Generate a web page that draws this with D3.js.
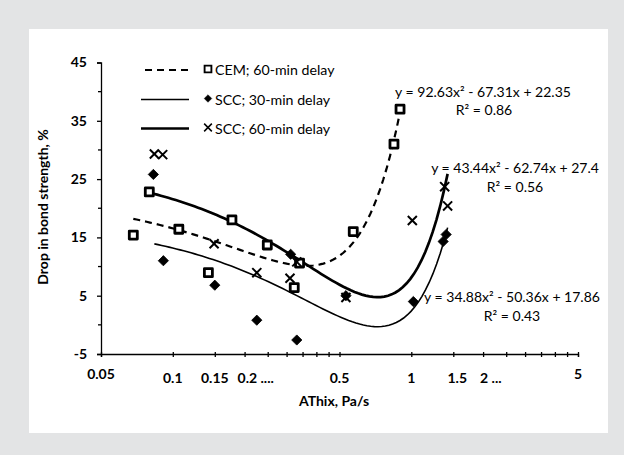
<!DOCTYPE html>
<html>
<head>
<meta charset="utf-8">
<script src="https://cdn.jsdelivr.net/npm/d3@7/dist/d3.min.js"></script>
<style>
  body { margin: 0; background: #e3e4e5; }
  text { font-family: Lato, "Open Sans", sans-serif; fill: #000; }
</style>
</head>
<body>
<script>
// data
var cemPts = [[0.0683, 15.4], [0.0797, 22.8], [0.106, 16.4], [0.141, 8.95], [0.177, 18.0],
              [0.249, 13.7], [0.323, 6.4], [0.34, 10.6], [0.571, 16.0], [0.846, 31.0], [0.897, 37.0]];
var scc30Pts = [[0.0829, 25.8], [0.0913, 11.0], [0.150, 6.8], [0.225, 0.8], [0.312, 12.1],
                [0.331, -2.6], [0.532, 5.0], [1.02, 4.0], [1.36, 14.3], [1.40, 15.5]];
var scc60Pts = [[0.0837, 29.3], [0.0907, 29.2], [0.149, 13.9], [0.225, 8.95], [0.31, 8.0],
                [0.331, 10.8], [0.532, 4.7], [1.01, 17.9], [1.38, 23.7], [1.42, 20.4]];

// trendline coefficients (a, b, c) printed on the chart, and the x range they cover
var cemFit = [92.63, -67.31, 22.35];
var scc60Fit = [43.44, -62.74, 27.4];
var scc30Fit = [34.88, -50.36, 17.86];
var cemRange = [0.0683, 0.897];
var scc60Range = [0.08, 1.42];
var scc30Range = [0.0837, 1.42];

var legendNames = ["CEM; 60-min delay", "SCC; 30-min delay", "SCC; 60-min delay"];
var eqLabels = ["y = 92.63x\u00b2 - 67.31x + 22.35", "y = 43.44x\u00b2 - 62.74x + 27.4", "y = 34.88x\u00b2 - 50.36x + 17.86"];
var r2Labels = ["R\u00b2 = 0.86", "R\u00b2 = 0.56", "R\u00b2 = 0.43"];

var yTicks = [-5, 5, 15, 25, 35, 45];
var yMinor = [0, 10, 20, 30, 40];
var xTickVals = [0.05, 0.1, 0.15, 0.2, 0.25, 0.3, 0.35, 0.4, 0.45, 0.5, 1, 1.5, 2, 2.5, 3, 3.5, 4, 4.5, 5];
var xLabels = [
  {v: 0.05, t: "0.05"}, {v: 0.1, t: "0.1"}, {v: 0.15, t: "0.15"}, {v: 0.2, t: "0.2 ...."},
  {v: 0.5, t: "0.5"}, {v: 1, t: "1"}, {v: 1.5, t: "1.5"}, {v: 2, t: "2 ..."}, {v: 5, t: "5"}
];

var width = 624, height = 455;
var svg = d3.select("body").append("svg")
        .attr("width", width)
        .attr("height", height);

svg.append("rect")
        .attr("width", width).attr("height", height)
        .attr("fill", "#e3e4e5");
svg.append("rect")
        .attr("x", 29).attr("y", 29)
        .attr("width", 579).attr("height", 404)
        .attr("fill", "#fff");

var x = d3.scaleLog().domain([0.05, 5]).range([101, 578]);
var y = d3.scaleLinear().domain([-5, 45]).range([354, 62.5]);

// y axis
var yAxis = svg.append("g")
        .attr("transform", "translate(" + x(0.05) + ",0)")
        .call(d3.axisLeft(y).tickValues(yTicks).tickSize(4).tickPadding(10)
                .tickFormat(function (d) { return String(d); }));
yAxis.select(".domain").attr("stroke", "#000").attr("stroke-width", 1.3);
yAxis.selectAll("line").attr("stroke", "#000").attr("stroke-width", 1.3);
yAxis.selectAll("text")
        .style("font-size", "14px").style("font-weight", "bold")
        .attr("fill", "#000");
svg.append("g").selectAll("line")
        .data(yMinor)
        .enter().append("line")
        .attr("x1", x(0.05) - 3).attr("x2", x(0.05))
        .attr("y1", function (d) { return y(d); })
        .attr("y2", function (d) { return y(d); })
        .attr("stroke", "#000").attr("stroke-width", 1.3);

// x axis
var xAxis = svg.append("g")
        .attr("transform", "translate(0," + y(-5) + ")")
        .call(d3.axisBottom(x).tickValues(xTickVals).tickSize(3).tickFormat(""));
xAxis.select(".domain").attr("stroke", "#000").attr("stroke-width", 1.3);
xAxis.selectAll("line").attr("stroke", "#000").attr("stroke-width", 1.3).attr("y1", -2);

svg.append("g").selectAll("text")
        .data(xLabels)
        .enter().append("text")
        .attr("x", function (d) { return x(d.v); })
        .attr("y", function (d) { return (d.v == 0.05 || d.v == 5) ? 379 : 383; })
        .attr("text-anchor", function (d) { return d.t.indexOf(" ") > 0 ? "start" : "middle"; })
        .attr("dx", function (d) { return d.t.indexOf(" ") > 0 ? (d.v == 2 ? -3 : -7) : (d.v == 1.5 ? 4 : 0); })
        .style("font-size", "14px").style("font-weight", "bold")
        .text(function (d) { return d.t; });

svg.append("text")
        .attr("x", 334).attr("y", 406)
        .attr("text-anchor", "middle")
        .style("font-size", "14px").style("font-weight", "bold")
        .text("AThix, Pa/s");
svg.append("text")
        .attr("transform", "translate(48,207) rotate(-90)")
        .attr("text-anchor", "middle")
        .style("font-size", "14px").style("font-weight", "bold")
        .text("Drop in bond strength, %");

// trendlines
function fitCurve(c, r) {
    var pts = [];
    var lx = d3.scaleLinear().domain([0, 80]).range([Math.log(r[0]), Math.log(r[1])]);
    for (var i = 0; i <= 80; i++) {
        var v = Math.exp(lx(i));
        pts.push([v, c[0] * v * v + c[1] * v + c[2]]);
    }
    return pts;
}
var line = d3.line()
        .x(function (d) { return x(d[0]); })
        .y(function (d) { return y(d[1]); });

svg.append("path")
        .attr("d", line(fitCurve(cemFit, cemRange)))
        .attr("fill", "none").attr("stroke", "#000")
        .attr("stroke-width", 2.2).attr("stroke-dasharray", "7,5");
svg.append("path")
        .attr("d", line(fitCurve(scc30Fit, scc30Range)))
        .attr("fill", "none").attr("stroke", "#000")
        .attr("stroke-width", 1.6);
svg.append("path")
        .attr("d", line(fitCurve(scc60Fit, scc60Range)))
        .attr("fill", "none").attr("stroke", "#000")
        .attr("stroke-width", 2.7);

// markers
var sq = d3.symbol().type(d3.symbolSquare).size(64);
var dia = d3.symbol().type(d3.symbolSquare).size(52);
var cross = d3.symbol().type(d3.symbolX).size(55);

function drawPts(data, sym, filled, sw, rot) {
    svg.append("g").selectAll("path")
            .data(data)
            .enter().append("path")
            .attr("transform", function (d) {
                return "translate(" + x(d[0]) + "," + y(d[1]) + ") rotate(" + rot + ")";
            })
            .attr("d", sym)
            .attr("fill", filled ? "#000" : "#fff")
            .attr("stroke", "#000")
            .attr("stroke-width", sw)
            .attr("stroke-linejoin", "round");
}
drawPts(cemPts, sq, false, 2.8, 0);
drawPts(scc30Pts, dia, true, 0.8, 45);
drawPts(scc60Pts, cross, false, 2, 0);

// legend
var legY = [70, 99.5, 128.5];
var legStyle = [{w: 2.2, dash: "7,5", x1: 145}, {w: 1.6, dash: null, x1: 141}, {w: 2.7, dash: null, x1: 141}];
var legSyms = [sq, dia, cross];
var leg = svg.append("g").selectAll("g")
        .data(legendNames)
        .enter().append("g")
        .attr("transform", function (d, i) { return "translate(0," + legY[i] + ")"; });
leg.append("line")
        .attr("x1", function (d, i) { return legStyle[i].x1; }).attr("x2", 189)
        .attr("stroke", "#000")
        .attr("stroke-width", function (d, i) { return legStyle[i].w; })
        .attr("stroke-dasharray", function (d, i) { return legStyle[i].dash; });
leg.append("path")
        .attr("d", function (d, i) { return legSyms[i](); })
        .attr("fill", function (d, i) { return i == 1 ? "#000" : "#fff"; })
        .attr("stroke", "#000")
        .attr("stroke-width", function (d, i) { return i == 0 ? 2.2 : (i == 1 ? 0.5 : 1.8); })
        .attr("transform", function (d, i) {
            return "translate(208,-1) scale(" + (i == 1 ? 0.75 : 0.85) + ") rotate(" + (i == 1 ? 45 : 0) + ")";
        });
leg.append("text")
        .attr("x", 215).attr("y", 5)
        .style("font-size", "14.2px")
        .text(function (d) { return d; });

// fit equations
var eqPos = [[483, 97], [515, 173], [512, 302]];
var r2Pos = [[484, 115], [515, 192], [512, 321]];
svg.append("g").selectAll("text")
        .data(eqLabels)
        .enter().append("text")
        .attr("x", function (d, i) { return eqPos[i][0]; })
        .attr("y", function (d, i) { return eqPos[i][1]; })
        .attr("text-anchor", "middle")
        .style("font-size", "14px")
        .text(function (d) { return d; });
svg.append("g").selectAll("text")
        .data(r2Labels)
        .enter().append("text")
        .attr("x", function (d, i) { return r2Pos[i][0]; })
        .attr("y", function (d, i) { return r2Pos[i][1]; })
        .attr("text-anchor", "middle")
        .style("font-size", "14px")
        .text(function (d) { return d; });
</script>
</body>
</html>
